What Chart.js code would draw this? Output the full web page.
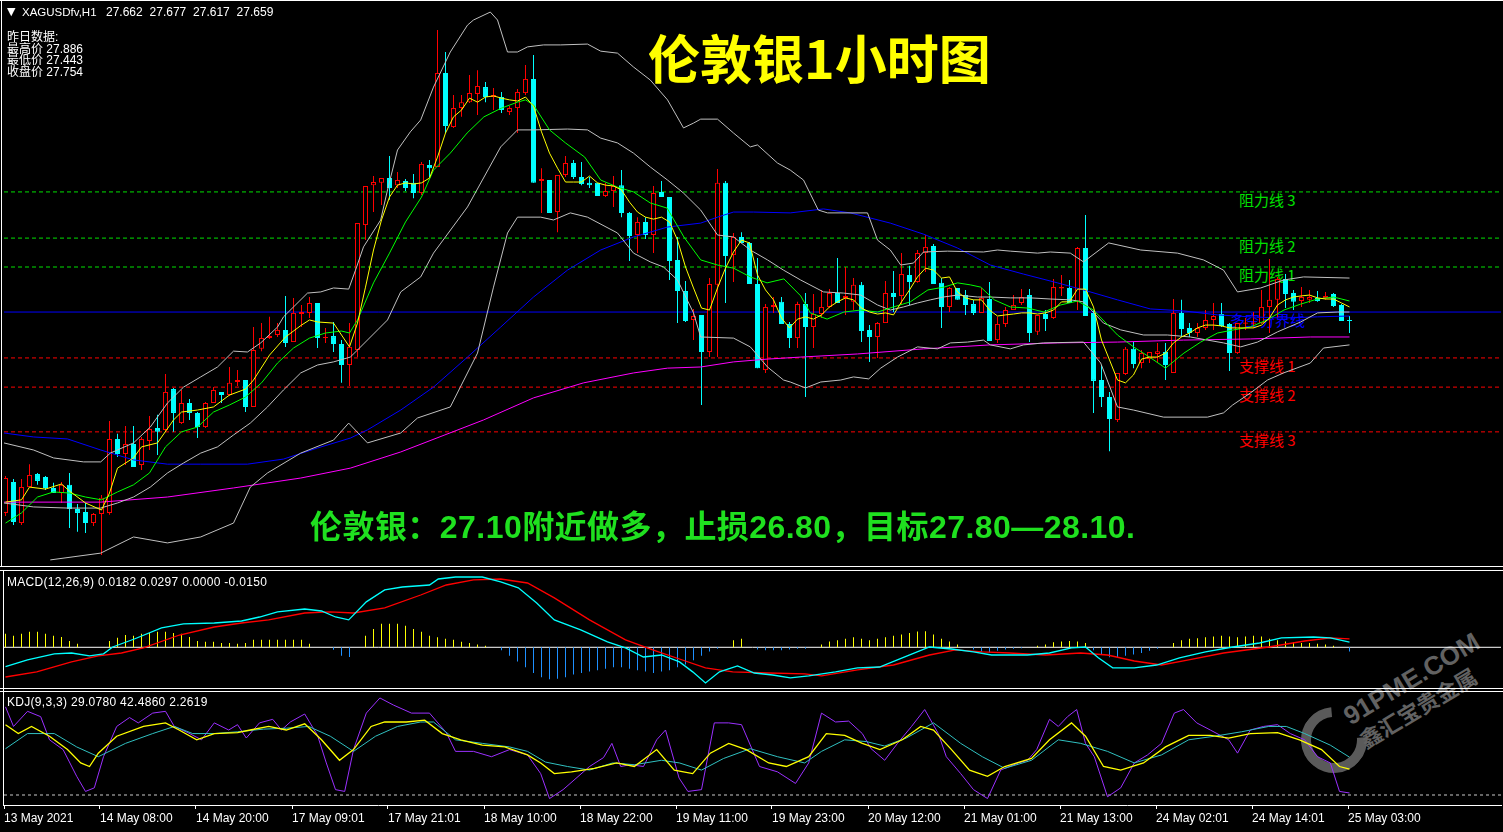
<!DOCTYPE html>
<html>
<head>
<meta charset="utf-8">
<title>伦敦银1小时图</title>
<script src="https://cdn.jsdelivr.net/npm/chart.js@4.4.1/dist/chart.umd.min.js"></script>
<style>
  html, body { margin: 0; padding: 0; background: #000; }
  #wrap { position: relative; width: 1503px; height: 832px; overflow: hidden; background: #000; }
  #wrap canvas { position: absolute; left: 0; }
  .txt { position: absolute; white-space: nowrap; }
  .hl { position: absolute; background: #fff; }
  .lvl { position: absolute; white-space: nowrap; font-family: 'Noto Sans CJK SC'; font-size: 15px; line-height: 15px; }
  .wm { position: absolute; color: #626262; white-space: nowrap; transform-origin: 0 100%; transform: rotate(-31deg); }
  #ring { position: absolute; left: 1301px; top: 707px; width: 46px; height: 46px; border: 10px solid #5a5a5a; border-radius: 50%; border-top-color: transparent; transform: rotate(40deg); }
</style>
</head>
<body>
<div id="wrap">
  <div id="ring"></div>
  <div class="wm" style="left:1353px;top:702px;font:bold 26px 'Liberation Sans';line-height:28px">91PME.COM</div>
  <div class="wm" style="left:1367px;top:727px;font:bold 22px 'Noto Sans CJK SC';line-height:24px">鑫汇宝贵金属</div>
  <div id="levelLabels"></div>

  <canvas id="mainChart" width="1503" height="567" style="top:0"></canvas>
  <canvas id="macdChart" width="1503" height="117" style="top:571px"></canvas>
  <canvas id="kdjChart" width="1503" height="140" style="top:692px"></canvas>

  <div class="hl" style="left:0;top:0;width:1503px;height:1px"></div>
  <div class="hl" style="left:1px;top:0;width:1px;height:567px"></div>
  <div class="hl" style="left:0;top:566px;width:1503px;height:1px"></div>
  <div class="hl" style="left:0;top:570px;width:1503px;height:1px"></div>
  <div class="hl" style="left:3px;top:570px;width:1px;height:236px"></div>
  <div class="hl" style="left:0;top:688px;width:1503px;height:1px"></div>
  <div class="hl" style="left:0;top:691px;width:1503px;height:1px"></div>

  <div class="txt" style="left:7px;top:5px;font:11px 'DejaVu Sans';line-height:14px;color:#fff">▼</div>
  <div class="txt" style="left:22px;top:5px;font:11.5px 'Liberation Sans';line-height:14px;color:#fff">XAGUSDfv,H1</div>
  <div class="txt" style="left:106px;top:5px;font:12px 'Liberation Sans';line-height:14px;word-spacing:3.5px;color:#fff">27.662 27.677 27.617 27.659</div>
  <div class="txt" style="left:7px;top:32px;font:12px 'Liberation Sans','Noto Sans CJK SC';line-height:11.7px;color:#fff">昨日数据:<br>最高价 27.886<br>最低价 27.443<br>收盘价 27.754</div>
  <div class="txt" id="title" style="left:648px;top:31px;font:bold 52px 'Noto Sans CJK SC';line-height:52px;color:#ffff00">伦敦银1小时图</div>
  <div class="txt" id="advice" style="left:310px;top:507px;font:bold 32px 'Liberation Sans','Noto Sans CJK SC';line-height:40px;letter-spacing:0.45px;color:#1fe01f">伦敦银：27.10附近做多，止损26.80，目标27.80—28.10.</div>
  <div class="txt" style="left:7px;top:575px;font:12px 'Liberation Sans';line-height:14px;letter-spacing:0.3px;color:#fff">MACD(12,26,9) 0.0182 0.0297 0.0000 -0.0150</div>
  <div class="txt" style="left:7px;top:695px;font:12px 'Liberation Sans';line-height:14px;letter-spacing:0.3px;color:#fff">KDJ(9,3,3) 29.0780 42.4860 2.2619</div>
</div>
<script>
// XAGUSD H1 candles, bar 0 = 13 May 20:00, last bar = 25 May 03:00
const open = [
26.982,27.091,26.946,27.073,27.119,27.109,27.070,27.052,27.081,26.996,
26.985,26.946,26.978,26.982,27.243,27.190,27.225,27.151,27.236,27.282,
27.275,27.419,27.299,27.370,27.335,27.285,27.370,27.409,27.398,27.444,
27.451,27.356,27.561,27.599,27.610,27.628,27.585,27.684,27.688,27.723,
27.599,27.606,27.578,27.504,27.557,27.998,28.139,28.147,28.164,28.139,
28.154,28.147,28.111,28.210,28.203,28.535,28.344,28.411,28.432,28.461,
28.485,28.450,28.450,28.397,28.411,28.464,28.514,28.154,28.157,28.044,
28.175,28.217,28.168,28.147,28.147,28.101,28.118,28.139,28.041,27.963,
28.009,27.963,28.115,28.097,27.875,27.765,27.663,27.681,27.550,27.787,
28.147,27.892,27.956,27.935,27.790,27.486,27.709,27.727,27.649,27.599,
27.719,27.638,27.684,27.709,27.758,27.741,27.727,27.787,27.628,27.603,
27.652,27.758,27.748,27.822,27.797,27.899,27.924,27.794,27.709,27.776,
27.751,27.719,27.688,27.737,27.592,27.649,27.698,27.723,27.751,27.621,
27.684,27.670,27.774,27.776,27.727,27.917,27.688,27.451,27.391,27.310,
27.472,27.561,27.511,27.525,27.543,27.550,27.476,27.688,27.635,27.617,
27.635,27.663,27.684,27.649,27.546,27.650,27.650,27.652,27.709,27.734,
27.808,27.758,27.730,27.734,27.741,27.741,27.755,27.716,27.662];
const high = [
27.112,27.102,27.102,27.154,27.123,27.112,27.088,27.091,27.123,27.013,
27.017,26.982,27.045,27.306,27.261,27.289,27.289,27.250,27.324,27.328,
27.472,27.423,27.416,27.384,27.338,27.373,27.426,27.409,27.497,27.486,
27.451,27.638,27.652,27.674,27.652,27.748,27.741,27.716,27.744,27.723,
27.635,27.656,27.592,27.652,28.005,28.136,28.171,28.164,28.242,28.185,
28.161,28.178,28.221,28.228,28.687,28.609,28.457,28.457,28.528,28.545,
28.503,28.482,28.468,28.418,28.478,28.563,28.598,28.199,28.157,28.175,
28.242,28.228,28.221,28.168,28.147,28.147,28.171,28.192,28.044,28.026,
28.026,28.136,28.154,28.097,27.956,27.801,27.702,27.681,27.811,28.196,
28.154,27.970,27.973,27.938,27.882,27.719,27.744,27.744,27.656,27.727,
27.758,27.755,27.769,27.772,27.882,27.850,27.811,27.797,27.645,27.656,
27.801,27.836,27.899,27.854,27.910,27.963,27.931,27.811,27.779,27.776,
27.769,27.734,27.776,27.797,27.674,27.709,27.751,27.772,27.772,27.681,
27.698,27.808,27.822,27.804,27.921,28.034,27.698,27.504,27.409,27.476,
27.568,27.585,27.557,27.550,27.582,27.582,27.737,27.734,27.652,27.652,
27.698,27.723,27.723,27.652,27.652,27.670,27.691,27.769,27.878,27.815,
27.825,27.769,27.779,27.769,27.765,27.762,27.758,27.719,27.677];
const low = [
26.971,26.939,26.939,27.073,27.081,27.063,27.052,27.017,26.929,26.915,
26.911,26.936,26.833,26.975,27.179,27.151,27.144,27.133,27.204,27.186,
27.268,27.268,27.296,27.310,27.246,27.282,27.370,27.370,27.395,27.430,
27.338,27.356,27.553,27.596,27.603,27.568,27.585,27.638,27.670,27.564,
27.582,27.550,27.441,27.430,27.532,27.945,28.044,28.069,28.087,28.129,
28.118,28.093,28.104,28.168,28.203,28.323,28.341,28.380,28.429,28.387,
28.432,28.404,28.394,28.387,28.323,28.457,28.147,28.041,28.041,27.973,
28.168,28.161,28.139,28.129,28.101,28.097,28.062,28.026,27.871,27.899,
27.949,27.899,28.097,27.804,27.652,27.656,27.592,27.363,27.532,27.532,
27.723,27.797,27.935,27.790,27.493,27.476,27.688,27.649,27.564,27.564,
27.391,27.564,27.670,27.705,27.723,27.681,27.698,27.585,27.515,27.529,
27.652,27.691,27.716,27.716,27.794,27.832,27.790,27.635,27.691,27.734,
27.681,27.681,27.688,27.589,27.582,27.638,27.698,27.716,27.585,27.610,
27.624,27.666,27.748,27.723,27.698,27.677,27.335,27.356,27.200,27.303,
27.469,27.493,27.493,27.511,27.511,27.451,27.476,27.603,27.603,27.603,
27.628,27.628,27.638,27.483,27.543,27.628,27.635,27.649,27.617,27.670,
27.705,27.698,27.709,27.723,27.727,27.734,27.709,27.659,27.617];
const close = [
27.105,26.950,27.073,27.116,27.095,27.070,27.052,27.081,26.996,26.982,
26.946,26.978,27.035,27.243,27.190,27.225,27.144,27.243,27.278,27.268,
27.409,27.335,27.370,27.335,27.285,27.370,27.416,27.398,27.441,27.451,
27.356,27.557,27.599,27.606,27.628,27.582,27.688,27.691,27.723,27.599,
27.603,27.578,27.504,27.568,28.005,28.136,28.150,28.164,28.129,28.157,
28.129,28.111,28.214,28.199,28.535,28.348,28.411,28.432,28.464,28.489,
28.450,28.457,28.404,28.411,28.468,28.514,28.147,28.161,28.041,28.175,
28.217,28.168,28.143,28.139,28.101,28.118,28.136,28.041,27.959,28.009,
27.963,28.111,28.097,27.871,27.765,27.659,27.677,27.550,27.790,28.147,
27.889,27.956,27.935,27.790,27.493,27.709,27.716,27.649,27.599,27.719,
27.638,27.684,27.709,27.758,27.723,27.748,27.787,27.624,27.603,27.652,
27.758,27.744,27.825,27.797,27.899,27.921,27.790,27.709,27.776,27.734,
27.716,27.688,27.741,27.589,27.649,27.698,27.716,27.744,27.617,27.681,
27.666,27.779,27.779,27.723,27.917,27.677,27.448,27.391,27.313,27.476,
27.561,27.508,27.546,27.550,27.553,27.504,27.688,27.631,27.617,27.635,
27.663,27.677,27.642,27.546,27.652,27.654,27.654,27.709,27.734,27.808,
27.755,27.727,27.744,27.744,27.730,27.748,27.712,27.659,27.659];

// moving averages / bollinger as [bar, price]
const ma5 = [[0,27.020],[2,27.028],[3,27.073],[5,27.066],[7,27.084],[8,27.059],[10,27.017],[12,26.992],[13,27.052],[14,27.140],[16,27.176],[17,27.215],[19,27.229],[21,27.310],[22,27.338],[24,27.345],[26,27.356],[28,27.398],[30,27.419],[31,27.451],[33,27.539],[35,27.603],[37,27.645],[38,27.663],[39,27.656],[41,27.652],[43,27.568],[44,27.652],[45,27.779],[46,27.910],[47,28.016],[48,28.097],[49,28.139],[50,28.147],[51,28.143],[52,28.147],[53,28.164],[54,28.238],[55,28.323],[56,28.380],[57,28.404],[58,28.446],[59,28.432],[60,28.450],[61,28.454],[62,28.446],[63,28.440],[64,28.436],[65,28.450],[66,28.418],[67,28.327],[68,28.252],[69,28.199],[70,28.150],[71,28.150],[72,28.150],[73,28.171],[74,28.147],[75,28.139],[76,28.136],[77,28.122],[78,28.079],[79,28.044],[80,28.026],[81,28.019],[82,28.026],[83,28.009],[84,27.945],[85,27.850],[86,27.776],[87,27.705],[88,27.698],[89,27.776],[90,27.846],[91,27.903],[92,27.945],[93,27.935],[94,27.822],[95,27.769],[96,27.734],[97,27.670],[98,27.635],[99,27.666],[100,27.674],[101,27.666],[102,27.681],[103,27.709],[104,27.727],[105,27.741],[106,27.734],[107,27.705],[108,27.691],[109,27.684],[110,27.688],[111,27.681],[112,27.727],[113,27.769],[114,27.815],[115,27.846],[116,27.839],[117,27.811],[118,27.815],[119,27.762],[120,27.741],[121,27.734],[122,27.734],[123,27.698],[124,27.677],[125,27.681],[126,27.684],[127,27.688],[128,27.688],[129,27.684],[130,27.688],[131,27.698],[132,27.727],[133,27.727],[134,27.772],[135,27.772],[136,27.709],[137,27.592],[138,27.522],[139,27.451],[140,27.441],[141,27.469],[142,27.525],[143,27.532],[144,27.532],[145,27.546],[146,27.582],[147,27.603],[148,27.617],[149,27.635],[150,27.645],[151,27.645],[152,27.642],[153,27.635],[154,27.635],[155,27.635],[156,27.635],[157,27.645],[158,27.670],[159,27.716],[160,27.734],[161,27.744],[162,27.748],[163,27.751],[164,27.741],[165,27.737],[166,27.737],[167,27.723],[168,27.709]];
const ma10 = [[0,26.946],[2,26.982],[4,27.038],[6,27.056],[8,27.052],[10,27.038],[12,27.028],[14,27.056],[16,27.081],[18,27.123],[20,27.215],[22,27.268],[24,27.285],[26,27.338],[28,27.363],[30,27.391],[32,27.441],[34,27.511],[36,27.564],[38,27.599],[40,27.617],[42,27.624],[43,27.617],[44,27.663],[46,27.794],[48,27.899],[50,28.009],[52,28.097],[53.5,28.192],[55.6,28.252],[57.7,28.323],[59.8,28.380],[62,28.411],[64,28.432],[65,28.440],[66,28.422],[68,28.334],[70,28.288],[72.4,28.238],[74.4,28.157],[76.5,28.132],[78.5,28.115],[80.6,28.076],[82.7,28.058],[84.8,27.956],[86.9,27.875],[89,27.857],[91,27.846],[93.1,27.815],[95.2,27.794],[97.3,27.808],[99.4,27.748],[100.6,27.688],[102.7,27.666],[104.8,27.691],[106.9,27.698],[109,27.691],[111,27.709],[113.1,27.727],[115.3,27.769],[117.3,27.779],[119,27.794],[120.6,27.787],[121.9,27.779],[123.6,27.734],[125.6,27.709],[127.8,27.705],[129.8,27.691],[131.9,27.716],[134,27.730],[136,27.698],[139,27.610],[141,27.568],[143,27.532],[145,27.493],[147.3,27.546],[149.4,27.585],[151.5,27.617],[153.5,27.628],[155.6,27.638],[157.7,27.663],[159.8,27.698],[161.9,27.719],[164,27.737],[166,27.744],[168,27.730]];
const bbUpper = [[-0.2,27.229],[3.5,27.204],[6,27.176],[9.75,27.162],[11.9,27.162],[13.1,27.193],[16,27.229],[18.1,27.285],[20.25,27.370],[22.25,27.426],[24.4,27.462],[26.5,27.497],[28.5,27.553],[30.25,27.550],[31.9,27.582],[34,27.638],[34.75,27.674],[36,27.709],[37.75,27.758],[39.4,27.762],[41,27.776],[42.9,27.772],[43.75,27.839],[44.75,27.921],[46.9,28.016],[47.75,28.122],[49,28.263],[50.6,28.327],[51.9,28.369],[53.5,28.485],[55.6,28.609],[57.75,28.704],[58.5,28.722],[60.6,28.750],[61.5,28.722],[62.75,28.609],[64,28.609],[65.25,28.627],[67.25,28.634],[69.4,28.634],[72.75,28.637],[74.4,28.612],[76.5,28.605],[78.5,28.556],[80.6,28.510],[82.75,28.440],[84.75,28.341],[86,28.358],[86.9,28.372],[89,28.372],[91,28.323],[93.1,28.274],[94,28.281],[96.5,28.217],[98.1,28.192],[99.75,28.157],[101.6,28.051],[102.75,28.041],[107.75,28.041],[109,27.945],[110.6,27.910],[111.9,27.857],[113.5,27.864],[114.75,27.903],[117.75,27.906],[122.25,27.903],[124,27.910],[125.6,27.906],[129,27.899],[130.6,27.903],[133.1,27.899],[134.75,27.868],[137.9,27.935],[141.9,27.910],[146.5,27.899],[149.75,27.875],[152.25,27.839],[154,27.762],[156.9,27.776],[159.75,27.804],[162.25,27.815],[168,27.811]];
const bbMid = [[-0.2,27.017],[3.5,27.003],[7.75,26.999],[11.9,26.999],[14,27.017],[16,27.038],[18.1,27.073],[20.25,27.123],[22.25,27.158],[24.4,27.193],[26.5,27.215],[28.5,27.257],[30.6,27.299],[32.75,27.356],[34.75,27.416],[36.9,27.476],[39,27.504],[41,27.515],[43.1,27.532],[44,27.557],[47.75,27.663],[49.4,27.762],[51.9,27.815],[53.5,27.899],[57.75,28.062],[61.9,28.274],[64,28.334],[66,28.334],[70.25,28.337],[72.75,28.334],[74.4,28.305],[76.5,28.288],[78.5,28.252],[80.6,28.203],[82.75,28.157],[84.75,28.111],[86.9,28.051],[89,27.963],[91,27.956],[93.1,27.910],[95.25,27.875],[97.25,27.839],[99.4,27.804],[102.25,27.762],[104.75,27.758],[106.9,27.751],[109,27.716],[110.6,27.698],[112.25,27.709],[114,27.723],[115.6,27.734],[117.25,27.744],[119,27.751],[121.5,27.744],[123.1,27.744],[125.6,27.741],[128.1,27.741],[130.6,27.737],[133.1,27.734],[134.75,27.727],[137.25,27.652],[139.4,27.628],[142.25,27.610],[145.25,27.610],[148.1,27.603],[150.25,27.592],[152.25,27.582],[154.4,27.568],[156.5,27.585],[159,27.621],[161.9,27.656],[164,27.688],[166.5,27.691],[168,27.691]];
const bbLower = [[5.6,26.816],[11.9,26.840],[16,26.897],[20.25,26.876],[24.4,26.897],[28.5,26.946],[30.6,27.073],[32.75,27.123],[36.9,27.193],[41,27.239],[42.9,27.299],[45.25,27.229],[49.4,27.264],[51.5,27.317],[55.6,27.356],[59,27.546],[61,27.779],[62.75,27.970],[64,28.026],[66.9,28.026],[68.5,28.016],[70.6,28.041],[72.75,28.026],[76.5,27.970],[78.5,27.899],[80.6,27.868],[82.25,27.850],[84,27.804],[86,27.688],[86.9,27.603],[91,27.599],[93.1,27.568],[95.25,27.497],[97.25,27.451],[98.1,27.444],[100,27.423],[101.9,27.444],[104.4,27.451],[106,27.462],[107.9,27.455],[109.4,27.493],[111.5,27.532],[114,27.568],[116.5,27.561],[118.1,27.582],[120.25,27.585],[122.25,27.592],[123.1,27.575],[125.6,27.561],[127.25,27.575],[129.75,27.582],[134.75,27.585],[136.9,27.511],[139,27.356],[141,27.345],[144.75,27.320],[150.25,27.320],[152.25,27.335],[153.4,27.363],[155.6,27.405],[157.75,27.451],[159.75,27.476],[163.1,27.511],[164.75,27.564],[168,27.575]];
const maBlue = [[-0.2,27.264],[3.5,27.250],[7.75,27.243],[11.9,27.204],[16,27.169],[20.25,27.154],[24.4,27.154],[30.25,27.154],[34.75,27.172],[39,27.211],[43.1,27.246],[45.25,27.275],[49.4,27.345],[53.5,27.426],[57.75,27.532],[61.9,27.638],[66,27.744],[70.25,27.839],[74.4,27.910],[78.5,27.956],[82.75,27.991],[86.9,28.005],[89,28.026],[91,28.044],[93.5,28.044],[98.1,28.041],[102.25,28.055],[105.6,28.041],[108.1,28.023],[110.6,28.005],[114.75,27.966],[119,27.917],[123.1,27.857],[127.25,27.825],[131.5,27.794],[134.75,27.769],[139,27.734],[143.1,27.702],[147.25,27.695],[151.5,27.681],[155.6,27.674],[159.75,27.670],[164,27.674],[168,27.677]];
const maMagenta = [[-0.2,27.020],[11.9,27.020],[20.25,27.038],[28.5,27.070],[36.9,27.105],[43.1,27.140],[49.4,27.197],[59.75,27.310],[66,27.388],[72.25,27.441],[78.5,27.476],[82.75,27.493],[86.9,27.497],[91,27.515],[95.25,27.525],[99.4,27.532],[106.5,27.543],[114.75,27.561],[123.1,27.575],[131.5,27.582],[139,27.585],[147.25,27.592],[155.6,27.596],[163.1,27.603],[168,27.603]];

// drawn support / resistance levels
const levels = [28.115, 27.952, 27.850, 27.691, 27.529, 27.426, 27.268];
const levelNames = ['阻力线 3', '阻力线 2', '阻力线 1', '多空分界线', '支撑线 1', '支撑线 2', '支撑线 3'];

// MACD(12,26,9)
const macdHist = [
0.047,0.040,0.047,0.054,0.054,0.047,0.040,0.036,0.022,0.012,
0,0,0,0.022,0.033,0.043,0.040,0.047,0.050,0.054,
0.054,0.050,0.047,0.036,0.022,0.019,0.019,0.015,0.015,0.012,
0.015,0.026,0.026,0.026,0.026,0.026,0.026,0.026,0.012,0,
0,-0.009,-0.030,-0.034,0,0.040,0.064,0.082,0.082,0.082,
0.075,0.064,0.054,0.040,0.035,0.030,0.026,0.019,0.015,0.010,
0.005,0,-0.010,-0.030,-0.050,-0.070,-0.090,-0.105,-0.112,-0.110,
-0.105,-0.095,-0.090,-0.085,-0.080,-0.075,-0.070,-0.070,-0.075,-0.080,
-0.085,-0.090,-0.085,-0.080,-0.070,-0.060,-0.045,-0.030,-0.015,-0.005,
0,0.025,0.030,0,-0.008,-0.010,-0.010,-0.010,-0.008,-0.005,
-0.005,0,0.010,0.020,0.025,0.030,0.035,0.030,0.025,0.030,
0.035,0.040,0.045,0.050,0.055,0.056,0.045,0.030,0.020,0.010,
0,-0.008,-0.015,-0.018,-0.012,-0.008,-0.005,-0.003,0,0.005,
0.010,0.018,0.020,0.022,0.020,0.015,-0.010,-0.025,-0.035,-0.035,
-0.030,-0.025,-0.020,-0.012,-0.005,0,0.015,0.025,0.030,0.032,
0.035,0.038,0.040,0.038,0.035,0.038,0.040,0.038,0.030,0.025,
0.020,0.018,0.015,0.015,0.012,0.010,0.005,0,-0.015];
const macdDif = [[0,-0.068],[2.75,-0.044],[6.1,-0.023],[8.25,-0.020],[10.5,-0.030],[12.25,-0.023],[13.4,0.001],[16.1,0.029],[19.5,0.068],[22.25,0.082],[26.1,0.085],[29.5,0.092],[31.75,0.106],[34,0.124],[37.4,0.134],[39.5,0.127],[41.25,0.106],[42.9,0.096],[45.1,0.159],[47.4,0.201],[49.6,0.211],[53,0.218],[54.1,0.239],[56.25,0.246],[59.6,0.246],[61.9,0.229],[64.1,0.208],[66.4,0.155],[68.6,0.096],[71.9,0.061],[75.25,0.019],[77.5,-0.002],[79.75,-0.034],[82,-0.027],[84.25,-0.051],[85.9,-0.086],[87.5,-0.125],[89.25,-0.086],[91.5,-0.065],[93.6,-0.090],[95.9,-0.097],[98.1,-0.107],[100.4,-0.100],[103.75,-0.086],[106.5,-0.072],[109.25,-0.069],[112.1,-0.037],[115.5,0.001],[118.25,-0.006],[121,-0.016],[123.25,-0.027],[125.5,-0.027],[127.75,-0.027],[130.5,-0.020],[133.25,-0.002],[135,0.001],[136.6,-0.037],[138.4,-0.072],[141.1,-0.072],[143.9,-0.062],[146.75,-0.037],[150,-0.016],[153.4,0.001],[156.75,0.015],[159.5,0.033],[163.5,0.036],[165.6,0.033],[168,0.0182]];
const macdDea = [[0,-0.104],[3.9,-0.086],[8.25,-0.051],[11.6,-0.030],[14.5,-0.020],[17.25,-0.002],[21.75,0.043],[26.1,0.071],[29.5,0.085],[32.9,0.096],[37.4,0.120],[40.6,0.124],[43.5,0.120],[47.4,0.138],[51.9,0.183],[55.1,0.218],[58.5,0.236],[61.9,0.239],[65.25,0.225],[68.6,0.173],[73,0.096],[77.5,0.026],[80.9,-0.009],[84.25,-0.041],[87.5,-0.072],[90.9,-0.086],[95.4,-0.090],[99.9,-0.093],[102,-0.100],[106.5,-0.079],[111,-0.062],[115.5,-0.027],[118.75,-0.009],[122.1,-0.016],[125.5,-0.020],[130,-0.027],[134.4,-0.020],[137.75,-0.027],[141.1,-0.048],[144.5,-0.062],[147.9,-0.044],[152.25,-0.020],[157.9,0.001],[162.4,0.022],[165.6,0.033],[168,0.0297]];

// KDJ(9,3,3)
const kdjK = [[0,79],[1.6,69],[3.25,77],[5.5,66],[7.75,51],[9.4,36],[10.5,32],[11.6,47],[13.9,66],[17.25,77],[20,81],[21.7,73],[23.9,62],[26.1,69],[29,70],[30.6,73],[32.9,77],[35.1,73],[37.4,80],[39.5,62],[41.75,39],[43.5,51],[45.7,77],[47.4,82],[50.1,82],[52.4,84],[54.6,69],[56.9,62],[59.6,56],[62.4,54],[65.25,45],[66.9,36],[68.6,24],[70.75,26],[73.6,30],[76.4,36],[78.6,32],[81.4,51],[83.6,28],[85.9,24],[88.1,47],[90.4,58],[92.6,51],[95.4,36],[97.6,32],[100.4,43],[102.6,69],[104.9,67],[107.1,58],[109.3,51],[112.1,62],[114.4,77],[116,73],[118.25,51],[120.5,28],[122.75,21],[124.9,32],[128.25,41],[130.5,62],[133.25,81],[135,66],[137.25,32],[139.4,28],[142.25,36],[145,54],[147.9,67],[150.6,67],[152.9,64],[155.6,69],[159,70],[161.75,62],[164.5,51],[166.75,32],[168,29.078]];
const kdjD = [[0,52],[2.75,69],[6.1,69],[8.9,54],[11.6,43],[15,58],[18.4,69],[21.1,77],[23.4,69],[26.1,69],[29,71],[32.25,74],[35.1,75],[37.9,77],[40.6,66],[43.5,49],[46.25,66],[49,77],[51.9,82],[53.5,82],[56.25,62],[59.6,58],[63,54],[65.25,49],[67.5,37],[70.25,32],[73,28],[75.9,36],[78.6,34],[82,39],[84.25,36],[87,28],[89.75,41],[93.1,52],[96.5,43],[99.9,36],[102,49],[104.9,62],[107.6,60],[109.9,55],[112.6,64],[116,81],[119.4,58],[122.1,43],[124.9,30],[128.25,39],[131.6,62],[134.4,58],[137.75,49],[141.1,36],[144.5,45],[147.9,62],[151.1,66],[154.5,71],[157.9,77],[160.1,77],[162.4,69],[165.6,56],[168,42.486]];
const kdjJ = [[0,99],[1,77],[2.75,94],[4.4,88],[5.5,62],[7.2,51],[8.9,21],[10,4],[11.1,8],[12.25,43],[13.9,77],[15.5,87],[16.6,81],[18.4,92],[20,94],[21.1,77],[22.8,70],[24.5,62],[26.1,81],[27.9,73],[29,79],[30.1,64],[31.75,81],[33.4,85],[34.5,73],[35.6,82],[37.4,91],[39,67],[40.1,36],[41.25,6],[42.4,4],[43.5,51],[45.1,92],[46.8,109],[48.5,101],[50.75,92],[53,92],[55.1,70],[56.25,49],[58.5,49],[60.75,43],[63,51],[65.25,45],[66.9,24],[68,-4],[69.7,6],[73,32],[74.75,42],[75.8,58],[76.9,32],[78.1,34],[79.75,32],[81.4,62],[82.5,73],[84.2,19],[85.3,4],[87,6],[88.6,81],[90.4,81],[92,79],[94.25,32],[96.5,26],[98.75,13],[100.4,36],[102,92],[103.75,82],[105.4,83],[107.1,69],[108.2,52],[109.9,39],[111.5,58],[113.25,77],[114.9,96],[116.6,69],[117.6,43],[119.4,24],[121,6],[122.75,-4],[124.4,28],[126.6,36],[127.75,39],[128.9,51],[130.5,85],[131.6,77],[132.75,88],[133.9,96],[135,58],[136.1,43],[137.75,-2],[139.4,8],[141.1,36],[142.75,45],[144.5,58],[146.1,92],[147.25,96],[148.9,81],[150.6,73],[152.9,62],[154,47],[155.6,73],[157.25,77],[159,79],[160.6,69],[162.4,62],[164,43],[165.6,36],[166.75,4],[168,2.262]];

// time axis, one label every 12 bars
const tickLabels = ['13 May 2021','14 May 08:00','14 May 20:00','17 May 09:01','17 May 21:01','18 May 10:00','18 May 22:00','19 May 11:00','19 May 23:00','20 May 12:00','21 May 01:00','21 May 13:00','24 May 02:01','24 May 14:01','25 May 03:00'];

// ---------------------------------------------------------------
const RED = '#ff0000', CYAN = '#00ffff';
const X_MIN = -0.1875, X_MAX = 186.9375;   // 8px per bar
Chart.defaults.font.family = 'Liberation Sans';

const pts = arr => arr.map(p => ({ x: p[0], y: p[1] }));
const lineDs = (arr, color, order, extra) => Object.assign({
  type: 'line', data: pts(arr), borderColor: color, borderWidth: 1,
  pointRadius: 0, tension: 0, fill: false, order: order
}, extra || {});
const flatDs = (v, color, dash, order) => lineDs([[X_MIN, v], [X_MAX, v]], color, order, { borderDash: dash });

const baseOptions = (yMin, yMax, pad, xExtra) => ({
  responsive: false, animation: false, events: [],
  layout: { padding: pad },
  plugins: { legend: { display: false }, tooltip: { enabled: false } },
  scales: {
    x: Object.assign({ type: 'linear', min: X_MIN, max: X_MAX, offset: false, display: false }, xExtra || {}),
    y: { type: 'linear', min: yMin, max: yMax, display: false }
  }
});

const bars = close.map((c, i) => i);
const up = bars.map(i => close[i] >= open[i]);

const levelColors = ['#00e000', '#00e000', '#00e000', '#0000ff', '#ff0000', '#ff0000', '#ff0000'];
const levelSets = levels.map((v, k) => flatDs(v, levelColors[k], k === 3 ? [] : [4, 3], 20));

const mainChart = new Chart(document.getElementById('mainChart'), {
  type: 'bar',
  data: {
    datasets: [
      ...levelSets,
      {
        type: 'bar', order: 12, grouped: false, barThickness: 1, minBarLength: 1, inflateAmount: 0,
        data: bars.map(i => ({ x: i, y: [low[i], high[i]] })),
        backgroundColor: bars.map(i => up[i] ? RED : CYAN), borderWidth: 0
      },
      {
        type: 'bar', order: 11, grouped: false, barThickness: 5, minBarLength: 1, inflateAmount: 0,
        data: bars.map(i => ({ x: i, y: [open[i], close[i]] })),
        backgroundColor: bars.map(i => up[i] ? (Math.abs(close[i] - open[i]) < 0.006 ? RED : '#000') : CYAN),
        borderColor: bars.map(i => up[i] ? RED : CYAN), borderWidth: 1, borderSkipped: false
      },
      lineDs(maMagenta, '#ff00ff', 6),
      lineDs(maBlue, '#0000ff', 5),
      lineDs(bbLower, '#c0c0c0', 4),
      lineDs(bbMid, '#c0c0c0', 4),
      lineDs(bbUpper, '#c0c0c0', 4),
      lineDs(ma10, '#00ff00', 3),
      lineDs(ma5, '#ffff00', 2)
    ]
  },
  options: baseOptions(26.7945, 28.7749, { left: 4, right: 2, top: 5, bottom: 1 })
});

// histogram split into rising (yellow) and falling (blue) parts
const histUp = bars.filter(i => macdHist[i] > 0).map(i => ({ x: i, y: macdHist[i] }));
const histDown = bars.filter(i => macdHist[i] < 0).map(i => ({ x: i, y: macdHist[i] }));
const histBar = (data, color) => ({
  type: 'bar', order: 5, grouped: false, barThickness: 1, inflateAmount: 0,
  data: data, backgroundColor: color, borderColor: color, borderWidth: 0
});

new Chart(document.getElementById('macdChart'), {
  type: 'bar',
  data: {
    datasets: [
      flatDs(0, '#ffffff', [], 10),
      histBar(histUp, '#ffff00'),
      histBar(histDown, '#1e90ff'),
      lineDs(macdDea, '#ff0000', 2, { borderWidth: 1.3 }),
      lineDs(macdDif, '#00ffff', 1, { borderWidth: 1.3 })
    ]
  },
  options: baseOptions(-0.1425, 0.267, { left: 4, right: 2, top: 0, bottom: 0 })
});

new Chart(document.getElementById('kdjChart'), {
  type: 'line',
  data: {
    datasets: [
      flatDs(0, '#c8c8c8', [3, 3], 10),
      lineDs(kdjJ, '#9b30ff', 3),
      lineDs(kdjD, '#30c0c0', 2),
      lineDs(kdjK, '#ffff00', 1, { borderWidth: 1.3 })
    ]
  },
  options: baseOptions(-11.24, 115.7, { left: 4, right: 2, top: 0, bottom: 0 }, {
    display: true, position: 'bottom',
    afterBuildTicks: s => { s.ticks = tickLabels.map((t, k) => ({ value: X_MIN + 12 * k })); },
    afterFit: s => { s.height = 27; },
    grid: { drawOnChartArea: false, drawTicks: true, tickLength: 4, color: '#ffffff', lineWidth: 1 },
    border: { display: true, color: '#ffffff', width: 1 },
    ticks: {
      autoSkip: false, maxRotation: 0, minRotation: 0, align: 'start', padding: 2,
      color: '#ffffff', font: { family: 'Liberation Sans', size: 12 },
      callback: (v, k) => tickLabels[k]
    }
  })
});

// level captions sit just under their lines
const yScale = mainChart.scales.y;
const labelBox = document.getElementById('levelLabels');
levels.forEach((v, k) => {
  const d = document.createElement('div');
  d.className = 'lvl';
  d.textContent = levelNames[k];
  d.style.color = levelColors[k];
  d.style.left = (k === 3 ? 1230 : 1239) + 'px';
  d.style.top = Math.round(yScale.getPixelForValue(v)) + 'px';
  labelBox.appendChild(d);
});
</script>
</body>
</html>
